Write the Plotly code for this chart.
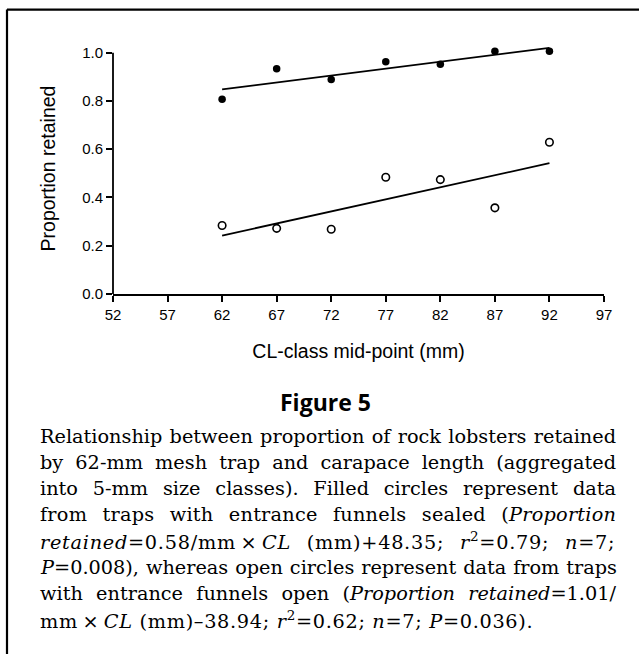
import plotly.graph_objects as go

# ---- data ----
cl_mid = [62, 67, 72, 77, 82, 87, 92]
sealed = [0.807, 0.933, 0.889, 0.962, 0.952, 1.006, 1.006]
open_funnel = [0.284, 0.272, 0.268, 0.484, 0.474, 0.357, 0.629]
fit_x = [62, 92]
sealed_fit = [0.848, 1.020]
open_fit = [0.242, 0.542]
x_ticks = [52, 57, 62, 67, 72, 77, 82, 87, 92, 97]
y_ticks = [0.0, 0.2, 0.4, 0.6, 0.8, 1.0]
y_tick_text = ["0.0", "0.2", "0.4", "0.6", "0.8", "1.0"]
y_axis_top = 1.0

caption_lines = [
    "Relationship between proportion of rock lobsters retained",
    "by 62-mm mesh trap and carapace length (aggregated",
    "into 5-mm size classes). Filled circles represent data",
    "from traps with entrance funnels sealed (<i>Proportion</i>",
    "<i>retained</i>=0.58/mm\u2009\u00d7\u2009<i>CL</i> (mm)+48.35; <i>r</i><sup>2</sup>=0.79; <i>n</i>=7;",
    "<i>P</i>=0.008), whereas open circles represent data from traps",
    "with entrance funnels open (<i>Proportion retained</i>=1.01/",
    "mm\u2009\u00d7\u2009<i>CL</i> (mm)\u201338.94; <i>r</i><sup>2</sup>=0.62; <i>n</i>=7; <i>P</i>=0.036).",
]

W, H = 639, 654
L, R, B = 113, 604, 294          # plot left/right/bottom in pixels
UNIT = 241.0                      # pixels per 1.0 on the y axis
YMAX = 1.04                       # headroom so points at ~1.0 are not clipped
T = B - UNIT * YMAX


def px(x):
    return (x - L) / (R - L)


def py(y):
    return (B - y) / (B - T)


fig = go.Figure()
fig.add_trace(go.Scatter(x=fit_x, y=sealed_fit, mode="lines",
                         line=dict(color="black", width=1.8), showlegend=False))
fig.add_trace(go.Scatter(x=fit_x, y=open_fit, mode="lines",
                         line=dict(color="black", width=1.8), showlegend=False))
fig.add_trace(go.Scatter(x=cl_mid, y=sealed, mode="markers",
                         marker=dict(symbol="circle", size=7.5, color="black"),
                         showlegend=False, cliponaxis=False))
fig.add_trace(go.Scatter(x=cl_mid, y=open_funnel, mode="markers",
                         marker=dict(symbol="circle-open", size=7.5, color="black",
                                     line=dict(width=1.6, color="black")),
                         showlegend=False, cliponaxis=False))

tick_font = dict(family="Liberation Sans, Arial, sans-serif", size=15, color="black")
title_font = dict(family="Liberation Sans, Arial, sans-serif", size=19.5, color="black")

fig.update_xaxes(range=[52, 97], tickmode="array", tickvals=x_ticks,
                 ticks="outside", ticklen=6, tickwidth=1.5, tickcolor="black",
                 showline=True, linecolor="black", linewidth=1.8,
                 showgrid=False, zeroline=False, tickfont=tick_font,
                 title=dict(text="CL-class mid-point (mm)", font=title_font, standoff=22))
fig.update_yaxes(range=[0, YMAX], tickmode="array", tickvals=y_ticks, ticktext=y_tick_text,
                 ticks="outside", ticklen=6, tickwidth=1.5, tickcolor="black",
                 showline=False, showgrid=False, zeroline=False, tickfont=tick_font,
                 title=dict(text="Proportion retained", font=title_font, standoff=21))

annotations = [
    dict(text="<b>Figure 5</b>", x=px(325), y=py(402), xref="paper", yref="paper",
         xanchor="center", yanchor="middle", showarrow=False,
         font=dict(family="Open Sans, sans-serif", size=23, color="black")),
]
cap_left = 38
for i, line in enumerate(caption_lines):
    annotations.append(dict(text=line, x=px(cap_left), y=py(436 + 26.2 * i),
                            xref="paper", yref="paper", xanchor="left", yanchor="middle",
                            align="left", showarrow=False,
                            font=dict(family="DejaVu Serif, serif", size=19.3, color="black")))

shapes = [
    # y axis line, stopping at 1.0 as in the reference
    dict(type="line", xref="paper", yref="y", x0=0, x1=0, y0=0, y1=y_axis_top,
         line=dict(color="black", width=1.8)),
    # page frame (top and left edges)
    dict(type="line", xref="paper", yref="paper", x0=px(7), x1=px(W + 5), y0=py(10), y1=py(10),
         line=dict(color="black", width=2.2)),
    dict(type="line", xref="paper", yref="paper", x0=px(7), x1=px(7), y0=py(10), y1=py(H + 5),
         line=dict(color="black", width=2.2)),
]

fig.update_layout(width=W, height=H, margin=dict(l=L, r=W - R, t=T, b=H - B, autoexpand=False),
                  plot_bgcolor="white", paper_bgcolor="white",
                  annotations=annotations, shapes=shapes)

# justify caption lines (all but the last) to the reference text block width;
# very loose lines get part of the slack as letter spacing; the last line is
# spread slightly to the reference's end point
justify_js = """
var gd = document.getElementById('{plot_id}');
try {
  var target = %d, lastTarget = %d, nLines = %d, cap = 9;
  var groups = gd.querySelectorAll('g.annotation');
  groups.forEach(function(g){
    var idx = parseInt(g.getAttribute('data-index'));
    if (idx < 1 || idx > nLines) return;
    var t = g.querySelector('text.annotation-text');
    if (!t) return;
    var w = t.getComputedTextLength();
    var c = t.textContent.length;
    if (idx < nLines) {
      var n = (t.textContent.match(/ /g) || []).length;
      var extra = target - w;
      if (n > 0 && extra > 0) {
        var ws = Math.min(extra / n, cap);
        var rest = extra - ws * n;
        t.style.wordSpacing = ws + 'px';
        if (rest > 0 && c > 1) { t.style.letterSpacing = (rest / (c - 1)) + 'px'; }
      }
    } else {
      if (c > 1 && w < lastTarget) { t.style.letterSpacing = ((lastTarget - w) / (c - 1)) + 'px'; }
    }
  });
} catch(e) {}
""" % (614 - cap_left, 532 - cap_left, len(caption_lines))

fig.write_html("out.html", post_script=justify_js)
